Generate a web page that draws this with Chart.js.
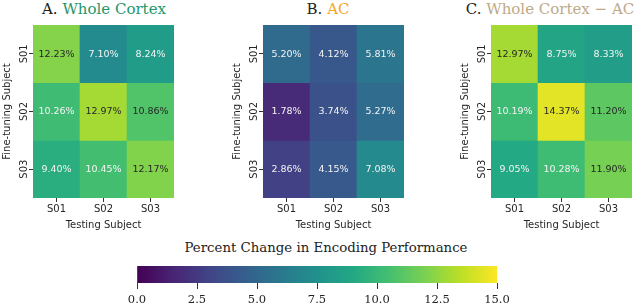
<!DOCTYPE html>
<html>
<head>
<meta charset="utf-8">
<script src="https://cdn.jsdelivr.net/npm/chart.js@4"></script>
<style>
  body { margin: 0; background: #fff; }
  #wrap { position: relative; width: 640px; height: 307px; overflow: hidden; }
  canvas { position: absolute; }
  .ttl { position: absolute; top: 0; font-family: "DejaVu Serif", serif; font-size: 15px;
         line-height: 18px; white-space: nowrap; color: #222; transform: translateX(-50%); }
  .cbt { font-size: 13.3px; line-height: 16px; top: 240px; }
</style>
</head>
<body>
<div id="wrap">
  <div class="ttl" style="left:104px">A. <span style="color:#23966a">Whole Cortex</span></div>
  <div class="ttl" style="left:328px">B. <span style="color:#f5a623">AC</span></div>
  <div class="ttl" style="left:550px">C. <span style="color:#bea988">Whole Cortex − AC</span></div>
  <div class="ttl cbt" style="left:326px">Percent Change in Encoding Performance</div>
  <canvas id="hmA" width="182" height="240" style="left:0;top:0"></canvas>
  <canvas id="hmB" width="182" height="240" style="left:230px;top:0"></canvas>
  <canvas id="hmC" width="182" height="240" style="left:458px;top:0"></canvas>
  <canvas id="cbar" width="400" height="67" style="left:120px;top:240px"></canvas>
</div>
<script>
// subjects on both axes
const subjects = ['S01', 'S02', 'S03'];

// rows = fine-tuning subject, columns = testing subject (percent)
const wholeCortex = [
    [12.23, 7.10, 8.24],
    [10.26, 12.97, 10.86],
    [9.40, 10.45, 12.17]
];
const acOnly = [
    [5.20, 4.12, 5.81],
    [1.78, 3.74, 5.27],
    [2.86, 4.15, 7.08]
];
const cortexMinusAc = [
    [12.97, 8.75, 8.33],
    [10.19, 14.37, 11.20],
    [9.05, 10.28, 11.90]
];

const colorMin = 0;
const colorMax = 15;
const colorbarTicks = [0, 2.5, 5, 7.5, 10, 12.5, 15];

// viridis stops at 0, 0.1, ... 1
const viridisStops = ['#440154', '#482475', '#414487', '#355f8d', '#2a788e', '#21918c',
    '#22a884', '#44bf70', '#7ad151', '#bddf26', '#fde725'];

function hexRgb(h) {
    return [parseInt(h.slice(1, 3), 16), parseInt(h.slice(3, 5), 16), parseInt(h.slice(5, 7), 16)];
}

function viridisRgb(v) {
    let t = (v - colorMin) / (colorMax - colorMin);
    t = Math.max(0, Math.min(1, t)) * 10;
    const i = Math.min(9, Math.floor(t));
    const f = t - i;
    const a = hexRgb(viridisStops[i]), b = hexRgb(viridisStops[i + 1]);
    return a.map((c, k) => Math.round(c + (b[k] - c) * f));
}

function viridis(v) {
    const c = viridisRgb(v);
    return `rgb(${c[0]},${c[1]},${c[2]})`;
}

// same rule as seaborn: dark text on light cells
function textColor(v) {
    const lin = viridisRgb(v).map(c => {
        c = c / 255;
        return c <= 0.03928 ? c / 12.92 : Math.pow((c + 0.055) / 1.055, 2.4);
    });
    const lum = 0.2126 * lin[0] + 0.7152 * lin[1] + 0.0722 * lin[2];
    return lum > 0.408 ? '#262626' : '#f4f4f4';
}

const cellLabels = {
    id: 'cellLabels',
    afterDatasetsDraw(chart) {
        const ctx = chart.ctx;
        ctx.save();
        ctx.font = '9.5px "DejaVu Sans"';
        ctx.textAlign = 'center';
        ctx.textBaseline = 'middle';
        chart.data.datasets.forEach((ds, di) => {
            chart.getDatasetMeta(di).data.forEach((bar, i) => {
                const v = ds.values[i];
                ctx.fillStyle = textColor(v);
                ctx.fillText(v.toFixed(2) + '%', bar.x, (bar.y + bar.base) / 2 + 0.5);
            });
        });
        ctx.restore();
    }
};

const sans = { family: 'DejaVu Sans', size: 10 };
const tickGrid = { drawOnChartArea: false, drawTicks: true, tickLength: 4, color: '#333', offset: false };

function makeHeatmap(id, rows) {
    const n = subjects.length;
    const datasets = rows.map((vals, r) => ({
        data: subjects.map(() => [n - r - 1, n - r]),
        values: vals,
        backgroundColor: vals.map(viridis),
        borderWidth: 0,
        barPercentage: 1,
        categoryPercentage: 1,
        grouped: false
    }));
    new Chart(document.getElementById(id), {
        type: 'bar',
        data: { labels: subjects, datasets: datasets },
        options: {
            responsive: false,
            animation: false,
            events: [],
            layout: { padding: { top: 25, right: 8, left: 0, bottom: 0 } },
            plugins: { legend: { display: false }, tooltip: { enabled: false } },
            scales: {
                x: {
                    type: 'category',
                    grid: tickGrid,
                    border: { display: false },
                    ticks: { font: sans, color: '#262626', padding: 1, maxRotation: 0 },
                    title: { display: true, text: 'Testing Subject', font: sans, color: '#262626',
                             padding: { top: 0, bottom: 9 } },
                    afterFit: s => { s.height = 42; s.paddingLeft = 0; s.paddingRight = 0; }
                },
                y: {
                    type: 'linear',
                    min: 0,
                    max: n,
                    grid: tickGrid,
                    border: { display: false },
                    afterBuildTicks: s => { s.ticks = subjects.map((_, k) => ({ value: n - k - 0.5 })); },
                    ticks: {
                        font: sans, color: '#262626', minRotation: 90, maxRotation: 90,
                        crossAlign: 'center', padding: -5,
                        callback: v => subjects[n - 1 - Math.floor(v)]
                    },
                    title: { display: true, text: 'Fine-tuning Subject', font: sans, color: '#262626',
                             padding: { top: 1, bottom: 0 } },
                    afterFit: s => { s.width = 33; s.paddingTop = 0; s.paddingBottom = 0; }
                }
            }
        },
        plugins: [cellLabels]
    });
}

makeHeatmap('hmA', wholeCortex);
makeHeatmap('hmB', acOnly);
makeHeatmap('hmC', cortexMinusAc);

// colour bar
new Chart(document.getElementById('cbar'), {
    type: 'bar',
    data: {
        labels: [''],
        datasets: [{
            data: [[colorMin, colorMax]],
            borderWidth: 0,
            barPercentage: 1,
            categoryPercentage: 1,
            backgroundColor: c => {
                const chart = c.chart;
                const xs = chart.scales.x;
                if (!chart.chartArea || !xs) return viridis(colorMin);
                const g = chart.ctx.createLinearGradient(xs.getPixelForValue(colorMin), 0,
                                                         xs.getPixelForValue(colorMax), 0);
                viridisStops.forEach((s, i) => g.addColorStop(i / (viridisStops.length - 1), s));
                return g;
            }
        }]
    },
    options: {
        indexAxis: 'y',
        responsive: false,
        animation: false,
        events: [],
        layout: { padding: { top: 26, right: 23, left: 17, bottom: 0 } },
        plugins: {
            legend: { display: false },
            tooltip: { enabled: false }
        },
        scales: {
            x: {
                type: 'linear',
                min: colorMin,
                max: colorMax,
                afterBuildTicks: s => { s.ticks = colorbarTicks.map(v => ({ value: v })); },
                grid: { drawOnChartArea: false, drawTicks: true, tickLength: 6, color: '#333' },
                border: { display: false },
                ticks: {
                    font: { family: 'DejaVu Serif', size: 11.5 },
                    color: '#222',
                    padding: 4,
                    maxRotation: 0,
                    callback: v => v.toFixed(1)
                },
                afterFit: s => { s.height = 24; }
            },
            y: { display: false }
        }
    }
});
</script>
</body>
</html>
